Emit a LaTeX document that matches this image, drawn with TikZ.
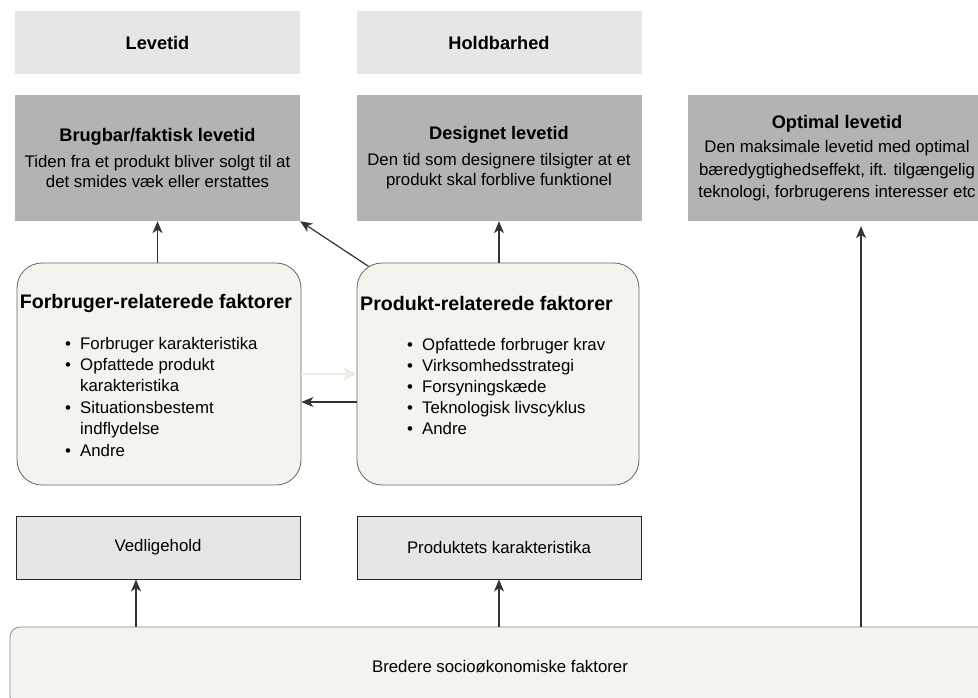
\documentclass[tikz,border=0pt]{standalone}
\usepackage{fontspec}
\setmainfont{Liberation Sans}
\usetikzlibrary{arrows.meta}
\definecolor{lightbox}{HTML}{E6E6E6}
\definecolor{darkbox}{HTML}{B3B3B3}
\definecolor{cream}{HTML}{F5F3EE}
\definecolor{edge}{HTML}{333333}
\definecolor{faint}{HTML}{EEEDE3}
\newcommand\titlefnt{\fontsize{18.2}{22}\selectfont\bfseries}
\newcommand\itm[1]{\makebox[15pt][l]{•}#1}
\begin{document}
\begin{tikzpicture}[x=1pt,y=-1pt,
  lbox/.style={fill=lightbox, draw=none, minimum width=285pt, minimum height=63pt, inner sep=0pt, font=\titlefnt},
  dbox/.style={fill=darkbox, draw=none, minimum width=285pt, minimum height=126pt, inner sep=0pt, align=center, font=\fontsize{16.8}{20}\selectfont},
  rbox/.style={fill=cream, draw=black!60, rounded corners=25pt, line width=0.8pt, minimum height=222pt, inner sep=0pt},
  gbox/.style={fill=lightbox, draw=black!85, line width=1pt, minimum width=284pt, minimum height=63pt, inner sep=0pt, font=\fontsize{16.8}{20}\selectfont},
  ltitle/.style={inner sep=0pt, font=\fontsize{19.6}{23}\selectfont\bfseries},
  litem/.style={inner sep=0pt, anchor=base west, font=\fontsize{16.8}{20}\selectfont},
  arr/.style={draw=edge, line width=1.2pt, -{Stealth[length=12pt,width=10pt,inset=3.5pt]}},
  faintarr/.style={draw=faint, line width=2pt, -{Stealth[length=13pt,width=13pt,inset=3pt]}}
  ]
\useasboundingbox (0,0) rectangle (978,697);
\clip (0,0) rectangle (978,697);
\fill[white] (0,0) rectangle (978,697);

% top row
\node[lbox] (levetid) at (157.5,42.5) {Levetid};
\node[lbox] (holdbar) at (499,42.5) {Holdbarhed};

% dark boxes
\node[dbox] (brugbar) at (157.5,158) {{\titlefnt Brugbar/faktisk levetid}\\[6pt] Tiden fra et produkt bliver solgt til at\\ det smides væk eller erstattes};
\node[dbox] (designet) at (499,158) {{\titlefnt Designet levetid}\\[6pt] Den tid som designere tilsigter at et\\ produkt skal forblive funktionel};
\node[dbox, minimum width=298pt, font=\fontsize{16.8}{22.5}\selectfont] (optimal) at (837,158) {{\titlefnt Optimal levetid}\\[2pt] Den maksimale levetid med optimal\\ bæredygtighedseffekt, ift. tilgængelig\\ teknologi, forbrugerens interesser etc};

% arrow under the rounded box
\coordinate (pcorner) at (371,268);
\draw[arr] (pcorner) -- (brugbar.south east);

% rounded boxes
\node[rbox, minimum width=284pt] (forb) at (159,374) {};
\node[rbox, minimum width=282pt] (prod) at (498,374) {};

\node[ltitle] (forbt) at (156,303) {Forbruger-relaterede faktorer};
\node[ltitle, anchor=west] (prodt) at (360,303) {Produkt-relaterede faktorer};

\node[litem] (fl1) at (65,349) {\itm{Forbruger karakteristika}};
\node[litem] (fl2) at (65,370.4) {\itm{Opfattede produkt}};
\node[litem] (fl3) at (80,391.8) {karakteristika};
\node[litem] (fl4) at (65,413.2) {\itm{Situationsbestemt}};
\node[litem] (fl5) at (80,434.6) {indflydelse};
\node[litem] (fl6) at (65,456) {\itm{Andre}};

\node[litem] (pl1) at (407,350) {\itm{Opfattede forbruger krav}};
\node[litem] (pl2) at (407,371.2) {\itm{Virksomhedsstrategi}};
\node[litem] (pl3) at (407,392.4) {\itm{Forsyningskæde}};
\node[litem] (pl4) at (407,413.6) {\itm{Teknologisk livscyklus}};
\node[litem] (pl5) at (407,434.8) {\itm{Andre}};

% bottom boxes
\node[gbox] (vedl) at (158,547.5) {Vedligehold};
\node[gbox] (prodk) at (499,547.5) {Produktets karakteristika};
\node[fill=cream, draw=black!45, line width=0.8pt, rounded corners=10pt, minimum width=980pt, minimum height=80pt, inner sep=0pt, font=\fontsize{16.8}{20}\selectfont] (bred) at (500,667) {Bredere socioøkonomiske faktorer};

% connectors
\draw[arr] (brugbar.south |- forb.north) -- (brugbar.south);
\draw[arr] (designet.south |- prod.north) -- (designet.south);
\draw[faintarr] (forb.east) -- (prod.west);
\draw[arr] ([yshift=-28pt]prod.west) -- ([yshift=-28pt]forb.east);
\draw[arr] ([xshift=-22pt]vedl.south |- bred.north) -- ([xshift=-22pt]vedl.south);
\draw[arr] (prodk.south |- bred.north) -- (prodk.south);
\draw[arr, shorten >=5pt] ([xshift=24pt]optimal.south |- bred.north) -- ([xshift=24pt]optimal.south);
\end{tikzpicture}
\end{document}
